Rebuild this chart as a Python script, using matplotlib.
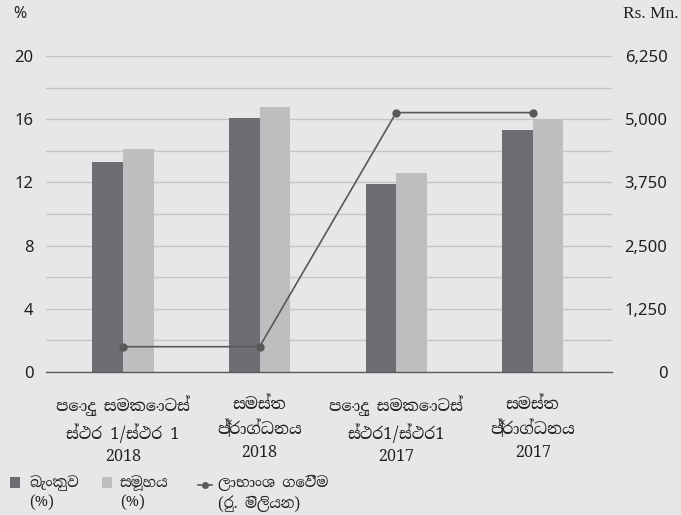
import matplotlib

matplotlib.use("Agg")
import matplotlib.pyplot as plt
import numpy as np
from matplotlib.lines import Line2D
from matplotlib.patches import Rectangle

categories = [
    "පොදු සමකොටස්\nස්ථර 1/ස්ථර 1\n2018",
    "සමස්ත\nප්‍රාග්ධනය\n2018",
    "පොදු සමකොටස්\nස්ථර1/ස්ථර1\n2017",
    "සමස්ත\nප්‍රාග්ධනය\n2017",
]
bank_pct = [13.3, 16.1, 11.9, 15.3]
group_pct = [14.1, 16.8, 12.6, 16.0]
dividends = [500, 500, 5130, 5130]

left_ticks = [0, 4, 8, 12, 16, 20]
right_ticks = [0, 1250, 2500, 3750, 5000, 6250]
right_tick_labels = ["0", "1,250", "2,500", "3,750", "5,000", "6,250"]

legend_labels = ["බැංකුව\n(%)", "සමූහය\n(%)", "ලාභාංශ ගෙවීම\n(රු. මිලියන)"]

BG = "#e6e7e9"
DARK = "#6d6e71"
LIGHT = "#bdbec0"
LINE = "#58595b"
GRID = "#c4c5c7"
TEXT = "#231f20"

SINHALA = ["Noto Serif Sinhala", "Noto Sans Sinhala", "Liberation Serif", "DejaVu Sans"]
SANS = ["Noto Sans", "DejaVu Sans"]

fig = plt.figure(figsize=(6.81, 5.15), dpi=100, facecolor=BG)
ax = fig.add_axes([0.0675, 0.2777, 0.8312, 0.6136])
ax.set_facecolor(BG)

x = np.arange(len(categories))
width = 0.224
ax.bar(x - width / 2, bank_pct, width, color=DARK, zorder=2)
ax.bar(x + width / 2, group_pct, width, color=LIGHT, zorder=2)

ax.set_xlim(-0.564, 3.58)
ax.set_ylim(0, 20)
ax.set_yticks(left_ticks)
ax.set_yticks(np.arange(2, 20, 4), minor=True)
ax.grid(axis="y", which="both", color=GRID, linewidth=1.0, zorder=0)
ax.tick_params(axis="y", which="both", length=0, labelsize=12, pad=9, labelcolor=TEXT)
for label in ax.get_yticklabels():
    label.set_family(SANS)

ax.set_xticks(x)
ax.set_xticklabels(categories, family=SINHALA, fontsize=11.5, linespacing=1.45)
ax.tick_params(axis="x", length=0, pad=17, labelcolor=TEXT)

for side in ["top", "right", "left"]:
    ax.spines[side].set_visible(False)
ax.spines["bottom"].set_color(LINE)
ax.spines["bottom"].set_linewidth(1.0)

ax2 = ax.twinx()
ax2.plot(x, dividends, color=LINE, linewidth=1.2, marker="o", markersize=5, zorder=4)
ax2.set_ylim(0, 6250)
ax2.set_yticks(right_ticks)
ax2.set_yticklabels(right_tick_labels, family=SANS, ha="right")
ax2.tick_params(axis="y", length=0, labelsize=12, pad=40, labelcolor=TEXT)
for side in ax2.spines:
    ax2.spines[side].set_visible(False)

fig.text(0.02, 0.988, "%", family=SANS, fontsize=11.5, va="top", ha="left", color=TEXT)
fig.text(0.997, 0.988, "Rs. Mn.", family="Liberation Serif", fontsize=12.5, va="top", ha="right", color=TEXT)

# legend drawn by hand so the markers sit on the first text line
patch_x = [0.0147, 0.150]
for px, color in zip(patch_x, [DARK, LIGHT]):
    fig.add_artist(Rectangle((px, 0.0524), 0.0147, 0.0214, transform=fig.transFigure,
                             facecolor=color, edgecolor="none"))
fig.add_artist(Line2D([0.291, 0.301, 0.311], [0.058, 0.058, 0.058], transform=fig.transFigure,
                      color=LINE, linewidth=1.2, marker="o", markersize=4, markevery=[1]))

text_x = [0.043, 0.176, 0.320]
for tx, text in zip(text_x, legend_labels):
    fig.text(tx, 0.078, text, family=SINHALA, fontsize=10.5, va="top", ha="left",
             linespacing=1.3, color=TEXT)

fig.savefig("out.png", dpi=100, facecolor=BG)
